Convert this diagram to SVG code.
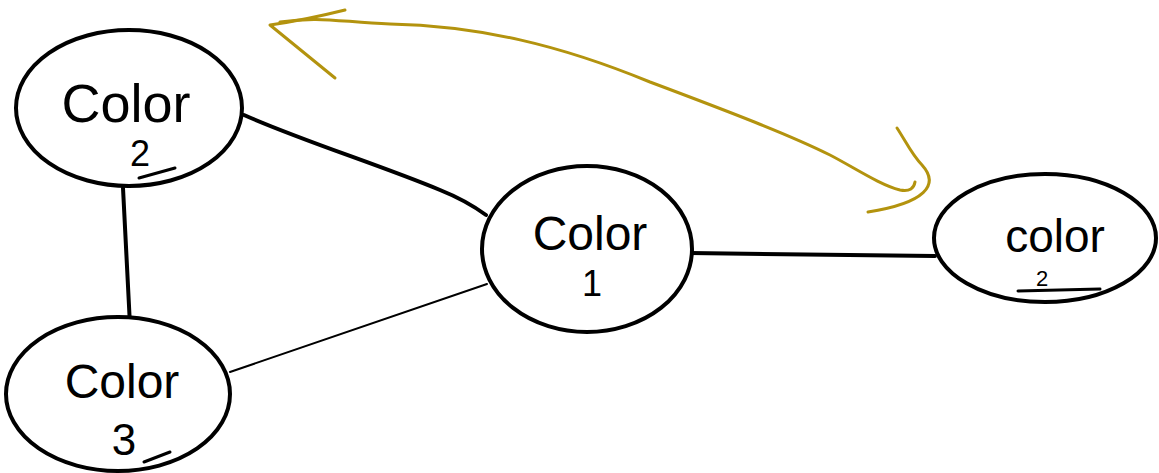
<svg xmlns="http://www.w3.org/2000/svg" width="1159" height="473" viewBox="0 0 1159 473">
<style>
.node ellipse{fill:#fff;stroke:#000;stroke-width:4}
.lbl{font-family:"Liberation Sans",Arial,sans-serif;fill:#000;text-anchor:middle}
.edge{fill:none;stroke:#000;stroke-linecap:round}
.mark{fill:none;stroke:#000;stroke-width:3;stroke-linecap:round}
.gold{fill:none;stroke:#b3930e;stroke-width:3;stroke-linecap:round;stroke-linejoin:round}
</style>
<rect width="1159" height="473" fill="#fff"/>
<g id="connectors">
<path class="edge" d="M244,115 C300,140 380,165 440,190 C460,198 475,207 486,215" stroke-width="4"/>
<path class="edge" d="M123,188 L131,345" stroke-width="4"/>
<path class="edge" d="M230,372 L487,284" stroke-width="2"/>
<path class="edge" d="M690,253 L935,256" stroke-width="4"/>
<path class="gold" d="M345,10 Q305,20 270,25 L335,78"/>
<path class="gold" d="M280,22 C320,16 340,22 390,24 C480,26 560,45 650,82 C730,112 790,135 830,155 C855,168 880,185 900,190 C910,192 914,188 915,182"/>
<path class="gold" d="M897,128 C905,140 912,155 922,165 C940,185 925,203 868,212"/>
</g>
<g id="node-color2" class="node">
<ellipse cx="129" cy="108" rx="113" ry="78"/>
<text class="lbl" x="126" y="122" font-size="54">Color</text>
<text class="lbl" x="140" y="166" font-size="36">2</text>
<path class="mark" d="M139,178 L175,168"/>
</g>
<g id="node-color1" class="node">
<ellipse cx="587" cy="249" rx="105" ry="83"/>
<text class="lbl" x="590" y="250" font-size="48">Color</text>
<text class="lbl" x="592" y="296" font-size="36">1</text>
</g>
<g id="node-color3" class="node">
<ellipse cx="118" cy="394" rx="112" ry="77"/>
<text class="lbl" x="122" y="398" font-size="48">Color</text>
<text class="lbl" x="124" y="455" font-size="44">3</text>
<path class="mark" d="M144,462 L170,452"/>
</g>
<g id="node-color2b" class="node">
<ellipse cx="1045" cy="238" rx="111" ry="64"/>
<text class="lbl" x="1055" y="252" font-size="46">color</text>
<text class="lbl" x="1042" y="286" font-size="22">2</text>
<path class="mark" d="M1018,291 L1100,289"/>
</g>
</svg>
